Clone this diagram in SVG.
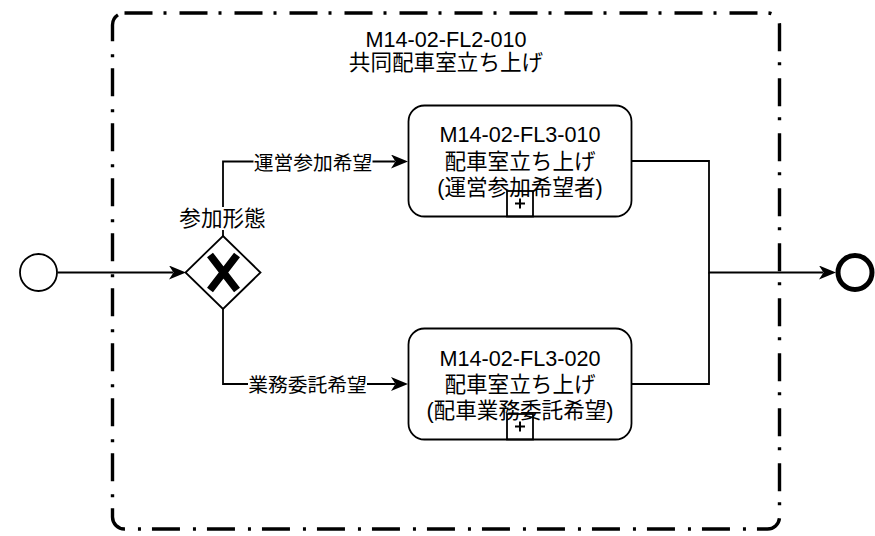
<svg xmlns="http://www.w3.org/2000/svg" width="875" height="536" viewBox="0 0 875 536">
<style>
.t{font-family:"Liberation Sans","Noto Sans CJK JP",sans-serif;font-size:21.6px;fill:#000;text-anchor:middle}
.e{font-size:19.8px}
.c{fill:none;stroke:#000;stroke-width:1.8}
.task{fill:#fff;stroke:#000;stroke-width:1.8}
.bg{fill:#fff;stroke:none}
</style>
<defs>
<marker id="arr" viewBox="0 0 17 14" refX="4" refY="7" markerWidth="17" markerHeight="14" markerUnits="userSpaceOnUse" orient="auto">
<path d="M0,0 L17,7 L0,14 L4.5,7 Z" fill="#000"/>
</marker>
</defs>
<rect id="pool" x="112.5" y="13" width="667" height="516" rx="12" fill="none" stroke="#000" stroke-width="3.4" stroke-dasharray="28 11 3 13"/>
<g id="pool-label">
<text class="t" x="446" y="46.5">M14-02-FL2-010</text>
<text class="t" x="446" y="69.5">共同配車室立ち上げ</text>
</g>
<g id="connectors">
<path class="c" d="M57.5,272.5 H173" marker-end="url(#arr)"/>
<path class="c" d="M223,236 V161.5 H395" marker-end="url(#arr)"/>
<path class="c" d="M223,309 V384 H395" marker-end="url(#arr)"/>
<path class="c" d="M632,161 H709 V272.5 H823" marker-end="url(#arr)"/>
<path class="c" d="M632,384 H709 V272.5"/>
<rect class="bg" x="253.5" y="151" width="119" height="22"/>
<text class="t e" x="313" y="170">運営参加希望</text>
<rect class="bg" x="248" y="373" width="119" height="22"/>
<text class="t e" x="307.5" y="392">業務委託希望</text>
</g>
<g id="start">
<circle cx="38.5" cy="272.5" r="18.5" fill="#fff" stroke="#000" stroke-width="1.8"/>
</g>
<g id="gateway">
<path d="M223,236 L260.5,272.5 L223,309 L185.5,272.5 Z" fill="#fff" stroke="#000" stroke-width="1.8"/>
<path d="M210,255 L237,290 M237,255 L210,290" stroke="#000" stroke-width="7.5" fill="none"/>
<rect class="bg" x="179" y="207" width="87" height="23"/>
<text class="t" x="222.5" y="226">参加形態</text>
</g>
<g id="task1">
<rect class="task" x="408.5" y="105.5" width="223" height="111" rx="16"/>
<rect x="507" y="191" width="26" height="25.5" fill="none" stroke="#000" stroke-width="1.8"/>
<path d="M520,198.5 V208.5 M515,203.5 H525" stroke="#000" stroke-width="2"/>
<text class="t" x="520" y="142">M14-02-FL3-010</text>
<text class="t" x="520" y="168.5">配車室立ち上げ</text>
<text class="t" x="520" y="194.5">(運営参加希望者)</text>
</g>
<g id="task2">
<rect class="task" x="408.5" y="328.5" width="223" height="111" rx="16"/>
<rect x="507" y="414" width="26" height="25.5" fill="none" stroke="#000" stroke-width="1.8"/>
<path d="M520,421.5 V431.5 M515,426.5 H525" stroke="#000" stroke-width="2"/>
<text class="t" x="520" y="365.5">M14-02-FL3-020</text>
<text class="t" x="520" y="391.5">配車室立ち上げ</text>
<text class="t" x="520" y="417.5">(配車業務委託希望)</text>
</g>
<g id="end">
<circle cx="855" cy="272.5" r="17" fill="#fff" stroke="#000" stroke-width="5"/>
</g>
</svg>
